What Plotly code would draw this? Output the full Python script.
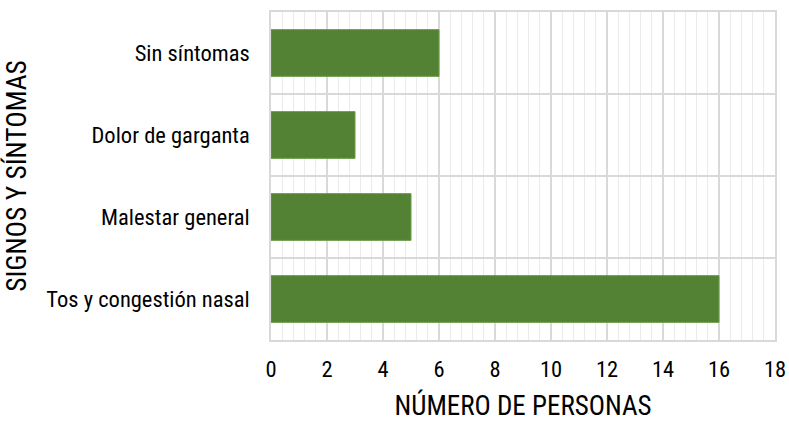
import plotly.graph_objects as go

categories = ["Tos y congestión nasal", "Malestar general", "Dolor de garganta", "Sin síntomas"]
values = [16, 5, 3, 6]
x_ticks = [0, 2, 4, 6, 8, 10, 12, 14, 16, 18]

FONT = "Liberation Sans Narrow, Arial Narrow, Roboto Condensed, Liberation Sans, sans-serif"
pos = list(range(len(categories)))

fig = go.Figure(go.Bar(
    x=values, y=pos, orientation="h",
    marker=dict(color="#548235", line=dict(color="#6a9a46", width=1)),
    width=0.57,
))

fig.update_layout(
    width=789, height=422,
    margin=dict(l=271, r=14, t=12, b=82),
    plot_bgcolor="white", paper_bgcolor="white",
    font=dict(family=FONT, size=22.5, color="#000000"),
    showlegend=False,
    xaxis=dict(
        range=[0, 18], tickvals=x_ticks, ticktext=[str(v) for v in x_ticks],
        showgrid=True, gridcolor="#d9d9d9", gridwidth=1.5,
        minor=dict(dtick=0.4, showgrid=True, gridcolor="#ebebeb", gridwidth=1),
        showline=True, linecolor="#d9d9d9", linewidth=1.5, mirror=True,
        zeroline=False, ticks="", ticklabelstandoff=8, automargin=False,
        title=dict(text="NÚMERO DE PERSONAS", font=dict(size=27), standoff=15),
    ),
    yaxis=dict(
        range=[-0.5, 3.5], tickvals=pos, ticktext=categories,
        showgrid=False,
        minor=dict(tickvals=[-0.5, 0.5, 1.5, 2.5, 3.5], showgrid=True, gridcolor="#d9d9d9", gridwidth=1.5),
        showline=True, linecolor="#d9d9d9", linewidth=1.5, mirror=True,
        zeroline=False, ticks="", ticklabelstandoff=15, automargin=False,
        title=dict(text="SIGNOS Y SÍNTOMAS", font=dict(size=27.5), standoff=19),
    ),
)

fig.write_html(
    "out.html",
    config={"displayModeBar": False},
    post_script="document.body.style.margin='0px';document.body.style.overflow='hidden';",
)
